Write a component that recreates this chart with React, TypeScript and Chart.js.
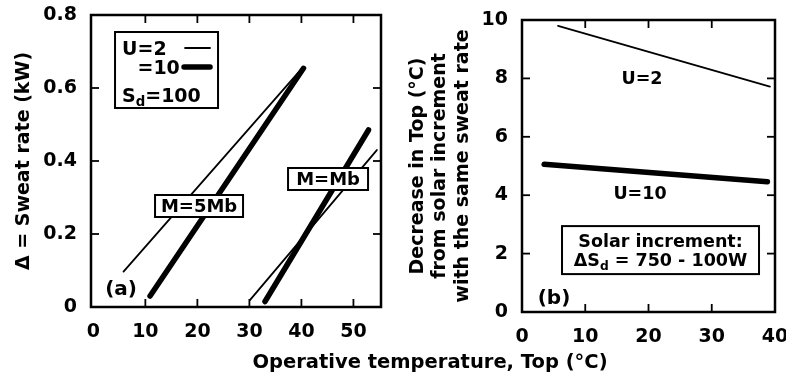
import { useEffect, useRef } from "react";
import { Chart, registerables } from "chart.js";

Chart.register(...registerables);

const FONT = "'DejaVu Sans', sans-serif";
const INK = "#000";

// ---- Panel (a): sweat rate against operative temperature ----
const aXTicks = [0, 10, 20, 30, 40, 50];
const aYTicks = [0, 0.2, 0.4, 0.6, 0.8];
const aYTickLabels = ["0", "0.2", "0.4", "0.6", "0.8"];

// M = 5Mb
const m5U2X = [5.8, 40.1];
const m5U2Y = [0.097, 0.654];
const m5U10X = [10.9, 40.4];
const m5U10Y = [0.03, 0.654];
// M = Mb
const m1U2X = [30.1, 54.5];
const m1U2Y = [0.019, 0.43];
const m1U10X = [33.0, 52.9];
const m1U10Y = [0.015, 0.485];

// ---- Panel (b): decrease in Top caused by the solar increment ----
const bXTicks = [0, 10, 20, 30, 40];
const bYTicks = [0, 2, 4, 6, 8, 10];
const bYTickLabels = ["0", "2", "4", "6", "8", "10"];
const bU2X = [5.7, 39.2];
const bU2Y = [9.8, 7.72];
const bU10X = [3.5, 38.8];
const bU10Y = [5.06, 4.46];

const THIN = 1.8;
const THICK = 5.5;

type Seg = { t: string; sub?: boolean };

const font = (size: number) => `bold ${size}px ${FONT}`;

function pts(xs: number[], ys: number[]) {
  return xs.map((x, i) => ({ x, y: ys[i] }));
}

function lineSet(xs: number[], ys: number[], width: number) {
  return {
    data: pts(xs, ys),
    showLine: true,
    borderColor: INK,
    backgroundColor: INK,
    borderWidth: width,
    pointRadius: 0,
    pointHoverRadius: 0,
    tension: 0,
    fill: false,
    borderCapStyle: "round" as const,
    borderJoinStyle: "round" as const,
  };
}

// draws text runs with subscripts; y is the vertical centre of the capitals
function drawRich(
  ctx: CanvasRenderingContext2D,
  segs: Seg[],
  x: number,
  cy: number,
  size: number,
  align: "left" | "center"
) {
  const subSize = size * 0.7;
  const widths = segs.map((s) => {
    ctx.font = font(s.sub ? subSize : size);
    return ctx.measureText(s.t).width;
  });
  const total = widths.reduce((p, w) => p + w, 0);
  let cx = align === "center" ? x - total / 2 : x;
  const base = cy + size * 0.36;
  ctx.textAlign = "left";
  ctx.textBaseline = "alphabetic";
  ctx.fillStyle = INK;
  segs.forEach((s, i) => {
    ctx.font = font(s.sub ? subSize : size);
    ctx.fillText(s.t, cx, base + (s.sub ? size * 0.22 : 0));
    cx += widths[i];
  });
  return total;
}

function box(ctx: CanvasRenderingContext2D, cx: number, cy: number, w: number, h: number) {
  ctx.fillStyle = "#fff";
  ctx.fillRect(cx - w / 2, cy - h / 2, w, h);
  ctx.strokeStyle = INK;
  ctx.lineWidth = 2;
  ctx.strokeRect(cx - w / 2, cy - h / 2, w, h);
}

function seg(ctx: CanvasRenderingContext2D, x1: number, y1: number, x2: number, y2: number) {
  ctx.beginPath();
  ctx.moveTo(x1, y1);
  ctx.lineTo(x2, y2);
  ctx.stroke();
}

// closed frame with inward tick marks on all four sides
function drawFrame(chart: any) {
  const { ctx, chartArea: a, scales } = chart;
  const x = scales.x;
  const y = scales.y;
  ctx.save();
  ctx.strokeStyle = INK;
  ctx.lineCap = "square";
  ctx.lineWidth = 2.5;
  ctx.strokeRect(a.left, a.top, a.right - a.left, a.bottom - a.top);
  ctx.lineWidth = 1.8;
  ctx.lineCap = "butt";
  const L = 8;
  for (const t of x.ticks) {
    const px = x.getPixelForValue(t.value);
    if (px < a.left + 5 || px > a.right - 5) continue;
    seg(ctx, px, a.top, px, a.top + L);
    seg(ctx, px, a.bottom, px, a.bottom - L);
  }
  for (const t of y.ticks) {
    const py = y.getPixelForValue(t.value);
    if (py < a.top + 5 || py > a.bottom - 5) continue;
    seg(ctx, a.left, py, a.left + L, py);
    seg(ctx, a.right, py, a.right - L, py);
  }
  ctx.restore();
}

function scaleX(min: number, max: number, ticks: number[], height: number) {
  return {
    type: "linear" as const,
    position: "bottom" as const,
    min,
    max,
    afterBuildTicks: (s: any) => {
      s.ticks = ticks.map((v) => ({ value: v }));
    },
    afterFit: (s: any) => {
      s.height = height;
      s.paddingLeft = 0;
      s.paddingRight = 0;
    },
    grid: { display: false, drawTicks: false },
    border: { display: false },
    ticks: {
      color: INK,
      font: { family: FONT, size: 19, weight: "bold" as const },
      padding: 14,
      maxRotation: 0,
      autoSkip: false,
      callback: (v: any) => String(v),
    },
  };
}

function scaleY(
  min: number,
  max: number,
  ticks: number[],
  labels: string[],
  width: number,
  title: string | string[],
  titlePad: number
) {
  return {
    type: "linear" as const,
    position: "left" as const,
    min,
    max,
    afterBuildTicks: (s: any) => {
      s.ticks = ticks.map((v) => ({ value: v }));
    },
    afterFit: (s: any) => {
      s.width = width;
      s.paddingTop = 0;
      s.paddingBottom = 0;
    },
    grid: { display: false, drawTicks: false },
    border: { display: false },
    ticks: {
      color: INK,
      font: { family: FONT, size: 19, weight: "bold" as const },
      padding: 14,
      autoSkip: false,
      callback: (v: any) => labels[ticks.indexOf(Number(v))] ?? String(v),
    },
    title: {
      display: true,
      text: title,
      color: INK,
      font: { family: FONT, size: 19, weight: "bold" as const, lineHeight: 1.18 },
      padding: { top: titlePad, bottom: 0 },
    },
  };
}

const panelAOverlay = {
  id: "panelAOverlay",
  afterDraw(chart: any) {
    const { ctx, scales } = chart;
    const X = (v: number) => scales.x.getPixelForValue(v);
    const Y = (v: number) => scales.y.getPixelForValue(v);
    ctx.save();

    // key
    const kx = X(4.17);
    const ky = Y(0.7534);
    ctx.fillStyle = "#fff";
    ctx.fillRect(kx, ky, 103, 76);
    ctx.strokeStyle = INK;
    ctx.lineWidth = 2;
    ctx.strokeRect(kx, ky, 103, 76);
    ctx.font = font(19);
    const uW = ctx.measureText("U").width;
    drawRich(ctx, [{ t: "U=2" }], kx + 7, ky + 16, 19, "left");
    drawRich(ctx, [{ t: "=10" }], kx + 7 + uW, ky + 35, 19, "left");
    drawRich(ctx, [{ t: "S" }, { t: "d", sub: true }, { t: "=100" }], kx + 7, ky + 63, 19, "left");
    ctx.lineCap = "round";
    ctx.lineWidth = THIN;
    seg(ctx, kx + 70, ky + 16, kx + 95, ky + 16);
    ctx.lineWidth = THICK;
    seg(ctx, kx + 69, ky + 35, kx + 95, ky + 35);

    // curve labels
    box(ctx, X(20.32), Y(0.2767), 88, 22);
    drawRich(ctx, [{ t: "M=5Mb" }], X(20.32), Y(0.2767), 18, "center");
    box(ctx, X(45.12), Y(0.3507), 80, 22);
    drawRich(ctx, [{ t: "M=Mb" }], X(45.12), Y(0.3507), 18, "center");

    drawRich(ctx, [{ t: "(a)" }], X(5.34), Y(0.0466) - 2, 20, "center");
    ctx.restore();
    drawFrame(chart);
  },
};

const panelBOverlay = {
  id: "panelBOverlay",
  afterDraw(chart: any) {
    const { ctx, scales } = chart;
    const X = (v: number) => scales.x.getPixelForValue(v);
    const Y = (v: number) => scales.y.getPixelForValue(v);
    ctx.save();
    drawRich(ctx, [{ t: "U=2" }], X(18.97), Y(8.03), 17.5, "center");
    drawRich(ctx, [{ t: "U=10" }], X(18.66), Y(4.09), 17.5, "center");

    const bx = X(21.9);
    const by = Y(2.12);
    box(ctx, bx, by, 197, 48);
    drawRich(ctx, [{ t: "Solar increment:" }], bx, by - 9, 17.5, "center");
    drawRich(ctx, [{ t: "ΔS" }, { t: "d", sub: true }, { t: " = 750 - 100W" }], bx, by + 10, 17.5, "center");

    drawRich(ctx, [{ t: "(b)" }], X(5.06), Y(0.445) - 2, 20, "center");

    // shared horizontal axis title
    drawRich(ctx, [{ t: "Operative temperature, Top (°C)" }], 430, 360.5, 19.5, "center");
    ctx.restore();
    drawFrame(chart);
  },
};

function baseOptions(padding: any) {
  return {
    responsive: false,
    animation: false as const,
    layout: { padding },
    events: [] as any[],
    plugins: {
      legend: { display: false },
      tooltip: { enabled: false },
      title: { display: false },
    },
  };
}

export default function App() {
  const aRef = useRef<HTMLCanvasElement>(null);
  const bRef = useRef<HTMLCanvasElement>(null);

  useEffect(() => {
    const chartA = new Chart(aRef.current as HTMLCanvasElement, {
      type: "scatter",
      data: {
        datasets: [
          lineSet(m5U2X, m5U2Y, THIN),
          lineSet(m5U10X, m5U10Y, THICK),
          lineSet(m1U2X, m1U2Y, THIN),
          lineSet(m1U10X, m1U10Y, THICK),
        ],
      },
      options: {
        ...baseOptions({ left: 0, right: 405, top: 15, bottom: 0 }),
        scales: {
          x: scaleX(-0.45, 55.3, aXTicks, 79),
          y: scaleY(0, 0.8, aYTicks, aYTickLabels, 91, "Δ = Sweat rate (kW)", 12.5),
        },
      } as any,
      plugins: [panelAOverlay],
    });

    const chartB = new Chart(bRef.current as HTMLCanvasElement, {
      type: "scatter",
      data: {
        datasets: [lineSet(bU2X, bU2Y, THIN), lineSet(bU10X, bU10Y, THICK)],
      },
      options: {
        ...baseOptions({ left: 400, right: 11, top: 20, bottom: 0 }),
        scales: {
          x: scaleX(0, 40, bXTicks, 74),
          y: scaleY(
            0,
            10,
            bYTicks,
            bYTickLabels,
            122,
            ["Decrease in Top (°C)", "from solar increment", "with the same sweat rate"],
            6.8
          ),
        },
      } as any,
      plugins: [panelBOverlay],
    });

    return () => {
      chartA.destroy();
      chartB.destroy();
    };
  }, []);

  const canvasStyle = { position: "absolute" as const, left: 0, top: 0 };
  return (
    <div
      style={{
        position: "fixed",
        left: 0,
        top: 0,
        width: 786,
        height: 386,
        background: "#fff",
        overflow: "hidden",
      }}
    >
      <canvas ref={aRef} width={786} height={386} style={canvasStyle} />
      <canvas ref={bRef} width={786} height={386} style={canvasStyle} />
    </div>
  );
}
